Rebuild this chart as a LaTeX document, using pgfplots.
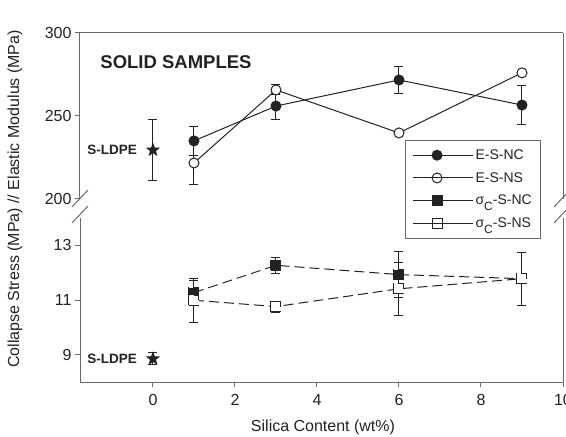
\documentclass[border=0pt]{standalone}
\usepackage{fontspec}
\setmainfont{Liberation Sans}
\usepackage{pgfplots}
\pgfplotsset{compat=1.18}
\usetikzlibrary{plotmarks}

\definecolor{ink}{HTML}{222222}
\definecolor{axisgray}{HTML}{6A6A6A}

% filled five-pointed star
\pgfdeclareplotmark{fstar}{%
  \pgfpathmoveto{\pgfpointpolar{90}{\pgfplotmarksize}}%
  \pgfpathlineto{\pgfpointpolar{126}{0.42\pgfplotmarksize}}%
  \pgfpathlineto{\pgfpointpolar{162}{\pgfplotmarksize}}%
  \pgfpathlineto{\pgfpointpolar{198}{0.42\pgfplotmarksize}}%
  \pgfpathlineto{\pgfpointpolar{234}{\pgfplotmarksize}}%
  \pgfpathlineto{\pgfpointpolar{270}{0.42\pgfplotmarksize}}%
  \pgfpathlineto{\pgfpointpolar{306}{\pgfplotmarksize}}%
  \pgfpathlineto{\pgfpointpolar{342}{0.42\pgfplotmarksize}}%
  \pgfpathlineto{\pgfpointpolar{18}{\pgfplotmarksize}}%
  \pgfpathlineto{\pgfpointpolar{54}{0.42\pgfplotmarksize}}%
  \pgfpathclose
  \pgfusepathqfillstroke
}

\pgfplotsset{
  panel/.style={
    scale only axis, width=483pt, xmin=-1.78, xmax=10,
    axis y line*=box, ytick pos=left,
    tick align=outside, major tick length=5pt,
    axis line style={axisgray, line width=1pt},
    tick style={axisgray, line width=1pt},
    ticklabel style={font=\fontsize{16}{18}\selectfont, text=ink},
    /pgf/number format/assume math mode=true,
    clip=false, anchor=south west,
  },
  series/.style={ink, line width=1pt, mark size=5pt, mark options={solid},
    error bars/y dir=both, error bars/y explicit,
    error bars/error bar style={ink, line width=1pt, solid},
    error bars/error mark options={rotate=90, mark size=4.5pt, ink, line width=1pt, solid}},
  dashes/.style={dash pattern=on 10pt off 5pt},
  solidleg/.style={legend image code/.code={%
    \draw[##1, mark=none] (0pt,0pt) -- (48pt,0pt);
    \draw[##1, only marks] plot coordinates {(24pt,0pt)};
    \path (0pt,0pt) -- (60pt,0pt);}},
  dashleg/.style={legend image code/.code={%
    \draw[##1, mark=none, solid] (0pt,0pt) -- (12pt,0pt) (36pt,0pt) -- (48pt,0pt);
    \draw[##1, only marks] plot coordinates {(24pt,0pt)};
    \path (0pt,0pt) -- (60pt,0pt);}},
}

\begin{document}
\begin{tikzpicture}
\useasboundingbox (0pt,0pt) rectangle (566pt,437pt);

% upper panel: elastic modulus
\begin{axis}[panel, at={(80pt,238pt)}, height=166pt,
  ymin=200, ymax=300, ytick={200,250,300},
  axis x line*=top, xtick=\empty,
  legend style={at={(0.673,0.355)}, anchor=north west,
    draw=axisgray, line width=1pt, fill=white,
    font=\fontsize{14}{16}\selectfont, text=ink,
    row sep=7.5pt, inner xsep=7pt, inner ysep=7pt},
  legend cell align=left]
\addplot[series, mark=*, mark options={fill=ink}, solidleg]
  coordinates {(1,235) +- (0,8.5) (3,256) +- (0,8) (6,271.7) +- (0,8) (9,256.6) +- (0,11.7)};
\addlegendentry{E-S-NC}
\addplot[series, mark=*, mark options={fill=white}, solidleg]
  coordinates {(1,221.7) +- (0,12.7) (3,265.7) +- (0,3) (6,239.8) (9,276)};
\addlegendentry{E-S-NS}
\addlegendimage{ink, line width=1pt, mark size=5pt, mark=square*, mark options={fill=ink}, dashleg}
\addlegendentry{σ\raisebox{-6pt}{\fontsize{12}{12}\selectfont C}-S-NC}
\addlegendimage{ink, line width=1pt, mark size=5pt, mark=square*, mark options={fill=white}, dashleg}
\addlegendentry{σ\raisebox{-6pt}{\fontsize{12}{12}\selectfont C}-S-NS}
\addplot[series, mark=fstar, mark size=6pt, mark options={fill=ink}, forget plot]
  coordinates {(0,229.5) +- (0,18.5)};
\end{axis}

% lower panel: collapse stress
\begin{axis}[panel, at={(80pt,55pt)}, height=164pt,
  ymin=8, ymax=14, ytick={9,11,13},
  axis x line*=bottom, xtick={0,2,4,6,8,10},
  xticklabel style={yshift=-4pt}]
\addplot[series, dashes, mark=square*, mark options={fill=ink}]
  coordinates {(1,11.27) +- (0,0.45) (3,12.27) +- (0,0.3) (6,11.93) +- (0,0.85) (9,11.78) +- (0,0.97)};
\addplot[series, dashes, mark=square*, mark options={fill=white}]
  coordinates {(1,10.99) +- (0,0.8) (3,10.76) +- (0,0.2) (6,11.41) +- (0,0.97) (9,11.78) +- (0,0.97)};
\addplot[series, mark=fstar, mark size=6pt, mark options={fill=ink}]
  coordinates {(0,8.85) +- (0,0.22)};
\end{axis}

% axis break marks
\draw[axisgray, line width=1pt] (72pt,230pt) -- (88pt,247pt) (72pt,214pt) -- (88pt,231pt);
\draw[axisgray, line width=1pt] (554pt,230pt) -- (570pt,247pt) (554pt,214pt) -- (570pt,231pt);

% annotations and labels
\node[font=\bfseries\fontsize{18.5}{20}\selectfont, text=ink] at (176pt,375pt) {SOLID SAMPLES};
\node[font=\bfseries\fontsize{13.5}{15}\selectfont, text=ink, anchor=east, inner sep=0pt] at (137pt,287pt) {S-LDPE};
\node[font=\bfseries\fontsize{13.5}{15}\selectfont, text=ink, anchor=east, inner sep=0pt] at (137pt,78pt) {S-LDPE};
\node[font=\fontsize{16}{18}\selectfont, text=ink, rotate=90] at (15pt,238pt) {Collapse Stress (MPa) // Elastic Modulus (MPa)};
\node[font=\fontsize{16}{18}\selectfont, text=ink] at (323pt,10pt) {Silica Content (wt\%)};
\end{tikzpicture}
\end{document}
